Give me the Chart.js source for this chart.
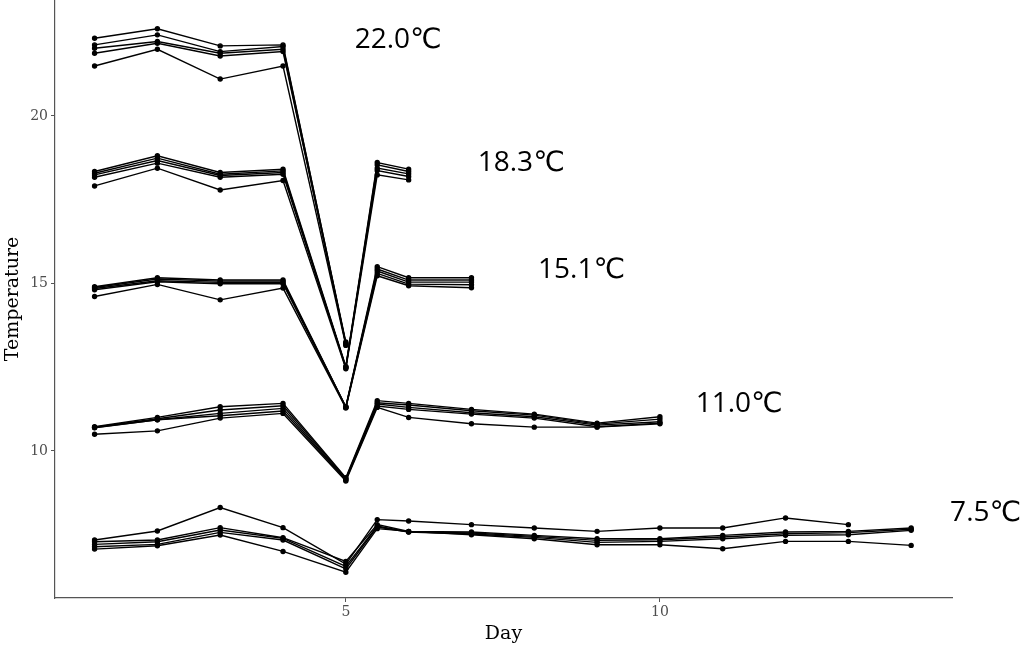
<!DOCTYPE html>
<html>
<head>
<meta charset="utf-8">
<script src="https://cdn.jsdelivr.net/npm/chart.js@4"></script>
<style>
  body { margin: 0; background: #fff; }
</style>
</head>
<body>
<canvas id="myChart" width="1023" height="648"></canvas>
<script>
// days measured (5.5 = half day after the drop)
const days = [1, 2, 3, 4, 5, 5.5, 6, 7, 8, 9, 10, 11, 12, 13, 14];

// 22.0 C tanks (days 1-5)
const t22a = [22.32, 22.60, 22.09, 22.12, 13.22];
const t22b = [22.12, 22.42, 21.92, 22.07, 13.25];
const t22c = [22.02, 22.22, 21.87, 21.99, 13.18];
const t22d = [21.87, 22.17, 21.79, 21.92, 13.20];
const t22e = [21.49, 21.99, 21.10, 21.49, 13.15];

// 18.3 C tanks (days 1-6)
const t18a = [18.34, 18.81, 18.31, 18.41, 12.52, 18.61, 18.41];
const t18b = [18.29, 18.74, 18.26, 18.36, 12.50, 18.54, 18.34];
const t18c = [18.24, 18.67, 18.22, 18.31, 12.48, 18.44, 18.27];
const t18d = [18.17, 18.59, 18.17, 18.26, 12.50, 18.37, 18.19];
const t18e = [17.91, 18.44, 17.79, 18.07, 12.45, 18.24, 18.09];

// 15.1 C tanks (days 1-7)
const t15a = [14.90, 15.17, 15.10, 15.10, 11.32, 15.50, 15.17, 15.17];
const t15b = [14.88, 15.13, 15.07, 15.07, 11.30, 15.43, 15.10, 15.10];
const t15c = [14.85, 15.08, 15.03, 15.03, 11.32, 15.37, 15.04, 15.04];
const t15d = [14.81, 15.05, 14.99, 14.99, 11.30, 15.30, 14.98, 14.96];
const t15e = [14.61, 14.97, 14.51, 14.86, 11.28, 15.23, 14.93, 14.87];

// 11.0 C tanks (days 1-10)
const t11a = [10.72, 11.00, 11.32, 11.42, 9.20, 11.50, 11.42, 11.24, 11.10, 10.83, 11.02];
const t11b = [10.71, 10.96, 11.22, 11.35, 9.18, 11.44, 11.37, 11.20, 11.07, 10.80, 10.95];
const t11c = [10.70, 10.93, 11.12, 11.27, 9.15, 11.40, 11.30, 11.14, 11.02, 10.77, 10.87];
const t11d = [10.69, 10.93, 11.05, 11.19, 9.13, 11.34, 11.24, 11.10, 10.98, 10.72, 10.83];
const t11e = [10.50, 10.60, 10.98, 11.12, 9.10, 11.30, 11.00, 10.81, 10.71, 10.71, 10.81];

// 7.5 C tanks (days 1-14)
const t7a = [7.34, 7.61, 8.31, 7.71, 6.62, 7.95, 7.91, 7.80, 7.70, 7.60, 7.70, 7.70, 8.00, 7.80];
const t7b = [7.29, 7.34, 7.71, 7.41, 6.70, 7.80, 7.60, 7.58, 7.48, 7.38, 7.38, 7.48, 7.58, 7.60, 7.70];
const t7c = [7.21, 7.29, 7.64, 7.39, 6.55, 7.76, 7.58, 7.55, 7.45, 7.33, 7.35, 7.43, 7.53, 7.56, 7.66];
const t7d = [7.14, 7.21, 7.57, 7.34, 6.48, 7.73, 7.58, 7.52, 7.42, 7.27, 7.30, 7.38, 7.48, 7.50, 7.63];
const t7e = [7.07, 7.17, 7.49, 7.00, 6.38, 7.68, 7.60, 7.50, 7.38, 7.20, 7.20, 7.08, 7.30, 7.30, 7.18];

// group labels and where they sit (in data units)
const groupLabels = ['22.0\u2103', '18.3\u2103', '15.1\u2103', '11.0\u2103', '7.5\u2103'];
const labelDays = [5.14, 7.1, 8.06, 10.57, 14.62];
const labelTemps = [22.27, 18.6, 15.39, 11.4, 8.15];

const xTicks = [5, 10];
const yTicks = [10, 15, 20];

const allSeries = [t22a, t22b, t22c, t22d, t22e,
                   t18a, t18b, t18c, t18d, t18e,
                   t15a, t15b, t15c, t15d, t15e,
                   t11a, t11b, t11c, t11d, t11e,
                   t7a, t7b, t7c, t7d, t7e];

const datasets = allSeries.map(vals => ({
  data: vals.map((v, i) => ({ x: days[i], y: v })),
  borderColor: '#000',
  backgroundColor: '#000',
  borderWidth: 1.4,
  pointRadius: 2,
  pointHoverRadius: 2,
  tension: 0
}));

// draws the temperature labels next to each group
const groupLabelPlugin = {
  id: 'groupLabels',
  afterDatasetsDraw(chart) {
    const c = chart.ctx;
    c.save();
    c.fillStyle = '#000';
    c.font = '28px "Open Sans", "DejaVu Sans", sans-serif';
    c.textAlign = 'left';
    c.textBaseline = 'middle';
    groupLabels.forEach((t, i) => {
      c.fillText(t, chart.scales.x.getPixelForValue(labelDays[i]),
                    chart.scales.y.getPixelForValue(labelTemps[i]));
    });
    c.restore();
  }
};

const tickFont = { family: '"DejaVu Serif", serif', size: 14 };
const titleFont = { family: '"DejaVu Serif", serif', size: 19 };

function noPad(s) {
  s.paddingTop = 0; s.paddingBottom = 0; s.paddingLeft = 0; s.paddingRight = 0;
}

var ctx = document.getElementById('myChart').getContext('2d');
var chart = new Chart(ctx, {
  type: 'line',
  data: { datasets: datasets },
  options: {
    responsive: false,
    animation: false,
    clip: false,
    layout: { autoPadding: false, padding: { top: 0, right: 71, bottom: 0, left: 0 } },
    plugins: {
      legend: { display: false },
      tooltip: { enabled: false }
    },
    scales: {
      x: {
        type: 'linear',
        min: 0.37,
        max: 14.65,
        afterBuildTicks: s => { s.ticks = xTicks.map(v => ({ value: v })); },
        afterFit: s => { s.height = 50; noPad(s); },
        ticks: { color: '#4d4d4d', font: tickFont, padding: 2 },
        grid: { drawOnChartArea: false, drawTicks: true, tickLength: 4, color: '#555' },
        border: { display: true, color: '#555', width: 1.2 },
        title: { display: true, text: 'Day', color: '#000', font: titleFont, padding: { top: 0, bottom: 3 } }
      },
      y: {
        min: 5.61,
        max: 23.46,
        afterBuildTicks: s => { s.ticks = yTicks.map(v => ({ value: v })); },
        afterFit: s => { s.width = 55; noPad(s); },
        ticks: { color: '#4d4d4d', font: tickFont, padding: 3 },
        grid: { drawOnChartArea: false, drawTicks: true, tickLength: 4, color: '#555' },
        border: { display: true, color: '#555', width: 1.2 },
        title: { display: true, text: 'Temperature', color: '#000', font: titleFont, padding: { top: 2, bottom: 4 } }
      }
    }
  },
  plugins: [groupLabelPlugin]
});
</script>
</body>
</html>
